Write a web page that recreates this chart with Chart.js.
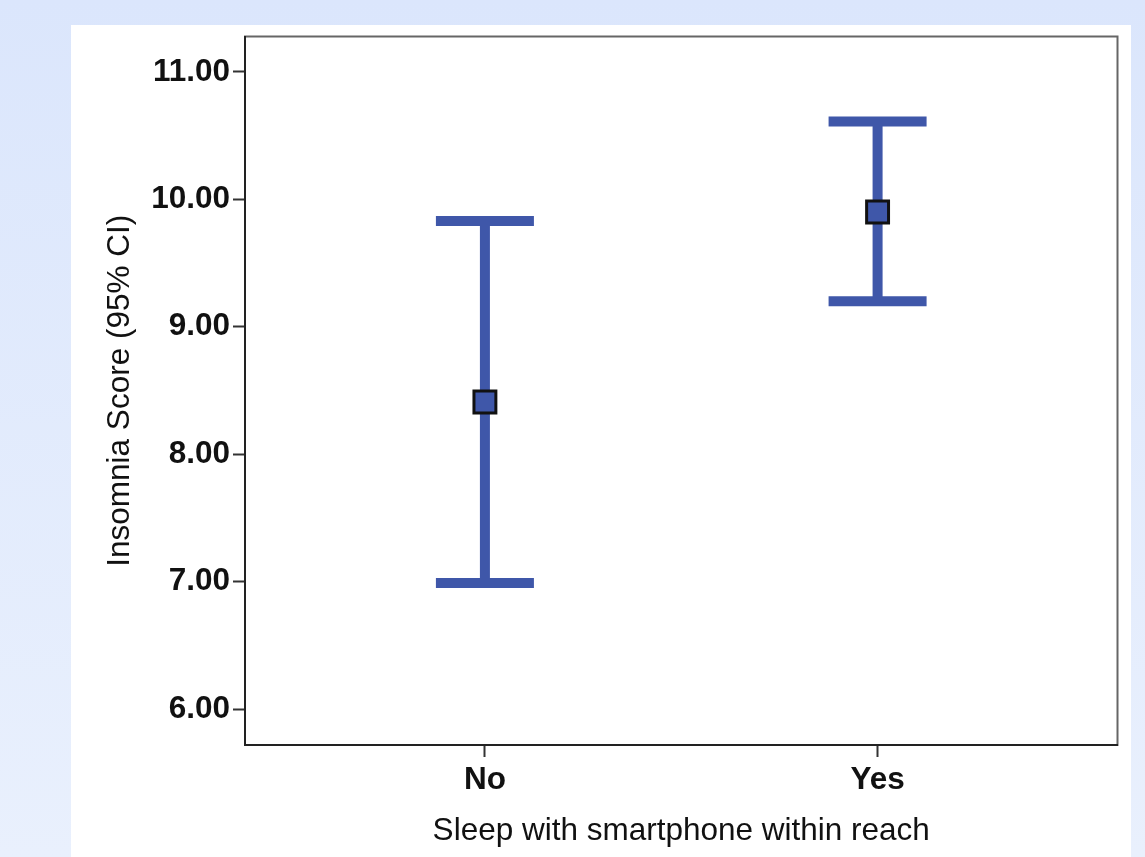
<!DOCTYPE html>
<html>
<head>
<meta charset="utf-8">
<script src="https://cdn.jsdelivr.net/npm/chart.js@4/dist/chart.umd.min.js"></script>
<style>
  html, body { margin: 0; padding: 0; }
  body {
    width: 1145px; height: 857px; overflow: hidden;
    background: linear-gradient(to bottom, #dbe6fc 0%, #e9f0fd 100%);
    position: relative;
  }
  #panel {
    position: absolute; left: 71px; top: 25px;
    width: 1060px; height: 832px; background: #fff;
  }
  /* canvas sits slightly over the panel edge: the marker overflow padding lands outside */
  #chart { position: absolute; left: 71px; top: 18px; }
</style>
</head>
<body>
<div id="panel"></div>
<canvas id="chart" width="1065" height="839"></canvas>
<script>
// data
const categories = ['No', 'Yes'];
const means = [8.41, 9.90];
const lowerCI = [6.99, 9.20];
const upperCI = [9.83, 10.61];
const yTicks = [6, 7, 8, 9, 10, 11];

const BLUE = '#3f57a9';
const FONT = "Arial, 'Liberation Sans', sans-serif";
const FS = 31.5;

// error bars (stem + caps) drawn through the chart scales
const errorBars = {
    id: 'errorBars',
    beforeDatasetsDraw(chart) {
        const { ctx } = chart;
        const xs = chart.scales.x, ys = chart.scales.y;
        ctx.save();
        ctx.strokeStyle = BLUE;
        ctx.lineWidth = 10;
        ctx.lineCap = 'butt';
        categories.forEach((c, i) => {
            const x = xs.getPixelForValue(i);
            const yl = ys.getPixelForValue(lowerCI[i]);
            const yu = ys.getPixelForValue(upperCI[i]);
            ctx.beginPath();
            ctx.moveTo(x, yl); ctx.lineTo(x, yu);
            ctx.moveTo(x - 49, yl); ctx.lineTo(x + 49, yl);
            ctx.moveTo(x - 49, yu); ctx.lineTo(x + 49, yu);
            ctx.stroke();
        });
        ctx.restore();
    }
};

// plot frame (top/right in grey, axes drawn by scales)
const frame = {
    id: 'frame',
    beforeDraw(chart) {
        const { ctx, chartArea: a } = chart;
        ctx.save();
        ctx.strokeStyle = '#666';
        ctx.lineWidth = 2;
        ctx.strokeRect(a.left, a.top, a.right - a.left, a.bottom - a.top);
        ctx.restore();
    }
};

new Chart(document.getElementById('chart'), {
    type: 'scatter',
    data: {
        datasets: [{
            data: categories.map((c, i) => ({ x: i, y: means[i] })),
            pointStyle: 'rect',
            pointRadius: 15.5,
            pointHoverRadius: 15.5,
            backgroundColor: BLUE,
            borderColor: '#111',
            borderWidth: 3,
        }]
    },
    options: {
        responsive: false,
        animation: false,
        layout: { padding: { left: 26, top: 0, right: 0, bottom: 7 } },
        plugins: { legend: { display: false }, tooltip: { enabled: false } },
        scales: {
            x: {
                type: 'linear',
                min: -0.611,
                max: 1.611,
                afterBuildTicks: s => { s.ticks = categories.map((c, i) => ({ value: i })); },
                afterFit: s => { s.height = 105; s.paddingLeft = 0; s.paddingRight = 0; },
                border: { display: true, color: '#222', width: 2 },
                grid: { drawOnChartArea: false, drawTicks: true, tickLength: 12, tickColor: '#333', tickWidth: 2 },
                ticks: {
                    callback: v => categories[v],
                    color: '#111',
                    padding: 4,
                    maxRotation: 0,
                    font: { family: FONT, size: FS, weight: 'bold' }
                },
                title: {
                    display: true,
                    text: 'Sleep with smartphone within reach',
                    color: '#111',
                    padding: 0,
                    font: { family: FONT, size: FS }
                }
            },
            y: {
                min: 5.72,
                max: 11.277,
                afterBuildTicks: s => { s.ticks = yTicks.map(v => ({ value: v })); },
                afterFit: s => { s.width = 148; s.paddingTop = 0; s.paddingBottom = 0; },
                border: { display: true, color: '#222', width: 2 },
                grid: { drawOnChartArea: false, drawTicks: true, tickLength: 12, tickColor: '#333', tickWidth: 2 },
                ticks: {
                    callback: v => v.toFixed(2),
                    color: '#111',
                    padding: 3,
                    font: { family: FONT, size: FS, weight: 'bold' }
                },
                title: {
                    display: true,
                    text: 'Insomnia Score (95% CI)',
                    color: '#111',
                    padding: 4,
                    font: { family: FONT, size: FS }
                }
            }
        }
    },
    plugins: [frame, errorBars]
});
</script>
</body>
</html>
